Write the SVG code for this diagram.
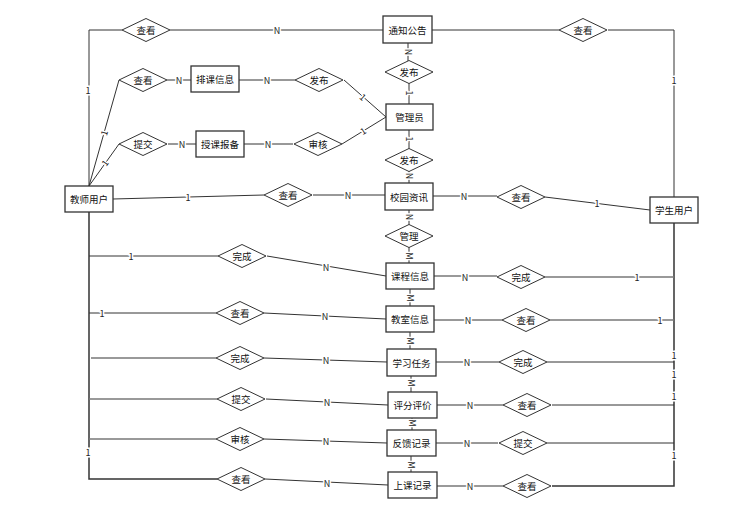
<svg xmlns="http://www.w3.org/2000/svg" width="751" height="520" viewBox="0 0 751 520">
<style>
text{font-family:"Noto Sans CJK SC","Liberation Sans",sans-serif;font-size:9.5px;fill:#111;text-anchor:middle;dominant-baseline:central}
.e rect{fill:#fff;stroke:#333;stroke-width:1.3}
.r polygon{fill:#fff;stroke:#333;stroke-width:1}
.c path{fill:none;stroke:#333;stroke-width:1}
.c .g{stroke:#777;stroke-width:1.3}
.l text{font-size:9px;fill:#222;stroke:#fff;stroke-width:3px;paint-order:stroke}
</style>
<defs>
<polygon id="dm" points="-24,0 0,-11.5 24,0 0,11.5"/>
</defs>
<g id="connectors" class="c">
<path d="M89,186 V30 H122"/>
<path d="M170,30 H383"/>
<path d="M432,30 H559"/>
<path d="M608,30 H674 V197"/>
<path d="M89,186 L119,80"/>
<path d="M89,186 L119,144"/>
<path d="M167,80 H191"/>
<path d="M239,80 H295"/>
<path d="M168,144 H196"/>
<path d="M244,144 H293"/>
<path d="M344,80 L386,117"/>
<path d="M342,144 L386,117"/>
<path d="M408,43 V61"/>
<path d="M409,83 V104"/>
<path d="M409,130 V149"/>
<path d="M409,171 V183"/>
<path d="M409,210 V225"/>
<path d="M409,247 V263"/>
<path d="M410,289 V306"/>
<path d="M410,332 V349"/>
<path d="M411,376 V392"/>
<path d="M412,418 V430"/>
<path d="M411,456 V472"/>
<path d="M113,199 L264,195"/>
<path d="M313,195 H385"/>
<path d="M433,196 H497"/>
<path d="M545,197 L650,210"/>
<path d="M89,212 V479 H217" style="stroke-width:1.5"/>
<path d="M89,256 H218"/>
<path d="M89,313 H216"/>
<path class="g" d="M91,358 H216"/>
<path class="g" d="M89,399 H217"/>
<path class="g" d="M89,439 H216"/>
<path d="M267,256 L386,276"/>
<path d="M264,313 L386,319"/>
<path d="M264,358 L387,362"/>
<path d="M266,399 L388,405"/>
<path d="M264,439 L387,443"/>
<path d="M265,479 L388,485"/>
<path class="g" d="M434,276 H497"/>
<path d="M434,320 H502"/>
<path d="M436,362 H499"/>
<path class="g" d="M437,405 H503"/>
<path d="M436,443 H498"/>
<path class="g" d="M437,486 H503"/>
<path d="M674,223 V486 H552" style="stroke-width:1.5"/>
<path class="g" d="M545,277 H674"/>
<path class="g" d="M550,320 H674"/>
<path d="M547,362 H674"/>
<path d="M552,405 H674"/>
<path d="M547,443 H674"/>
</g>
<g id="labels" class="l">
<text x="88" y="90">1</text>
<text x="277" y="30">N</text>
<text x="674" y="80">1</text>
<text x="179" y="80">N</text>
<text x="267" y="80">N</text>
<text x="182" y="144">N</text>
<text x="268" y="144">N</text>
<text x="104" y="133" transform="rotate(-74 104 133)">1</text>
<text x="105" y="163" transform="rotate(-54 105 163)">1</text>
<text x="363" y="97" transform="rotate(41 363 97)">1</text>
<text x="363" y="131" transform="rotate(-32 363 131)">1</text>
<text x="408" y="52" transform="rotate(90 408 52)">N</text>
<text x="409" y="93" transform="rotate(90 409 93)">1</text>
<text x="409" y="139" transform="rotate(90 409 139)">1</text>
<text x="409" y="176" transform="rotate(90 409 176)">N</text>
<text x="409" y="217" transform="rotate(90 409 217)">N</text>
<text x="409" y="256" transform="rotate(90 409 256)">M</text>
<text x="410" y="298" transform="rotate(90 410 298)">M</text>
<text x="410" y="341" transform="rotate(90 410 341)">M</text>
<text x="411" y="383" transform="rotate(90 411 383)">M</text>
<text x="412" y="423" transform="rotate(90 412 423)">M</text>
<text x="411" y="465" transform="rotate(90 411 465)">M</text>
<text x="188" y="197">1</text>
<text x="348" y="195">N</text>
<text x="464" y="196">N</text>
<text x="597" y="203">1</text>
<text x="131" y="256">1</text>
<text x="326" y="267">N</text>
<text x="102" y="313">1</text>
<text x="325" y="316">N</text>
<text x="326" y="360">N</text>
<text x="327" y="402">N</text>
<text x="326" y="441">N</text>
<text x="327" y="483">N</text>
<text x="88" y="452">1</text>
<text x="465" y="277">N</text>
<text x="468" y="320">N</text>
<text x="467" y="362">N</text>
<text x="470" y="405">N</text>
<text x="467" y="443">N</text>
<text x="470" y="486">N</text>
<text x="637" y="277">1</text>
<text x="660" y="320">1</text>
<text x="674" y="355">1</text>
<text x="674" y="374">1</text>
<text x="674" y="396">1</text>
<text x="674" y="455">1</text>
</g>
<g id="teacher" class="e"><rect x="65" y="186" width="48" height="26"/><text x="89" y="199">教师用户</text></g>
<g id="student" class="e"><rect x="650" y="197" width="48" height="26"/><text x="674" y="210">学生用户</text></g>
<g id="notice" class="e"><rect x="383" y="16" width="49" height="27"/><text x="407.5" y="30">通知公告</text></g>
<g id="admin" class="e"><rect x="386" y="104" width="47" height="26"/><text x="409.5" y="117">管理员</text></g>
<g id="schedule" class="e"><rect x="191" y="66" width="48" height="26"/><text x="215" y="79">排课信息</text></g>
<g id="report" class="e"><rect x="196" y="131" width="48" height="26"/><text x="220" y="144">授课报备</text></g>
<g id="news" class="e"><rect x="385" y="183" width="48" height="27"/><text x="409" y="196.5">校园资讯</text></g>
<g id="course" class="e"><rect x="386" y="263" width="48" height="26"/><text x="410" y="276">课程信息</text></g>
<g id="classroom" class="e"><rect x="386" y="306" width="48" height="26"/><text x="410" y="319">教室信息</text></g>
<g id="task" class="e"><rect x="387" y="349" width="49" height="27"/><text x="411.5" y="362.5">学习任务</text></g>
<g id="evaluation" class="e"><rect x="388" y="392" width="49" height="26"/><text x="412.5" y="405">评分评价</text></g>
<g id="feedback" class="e"><rect x="387" y="430" width="49" height="26"/><text x="411.5" y="443">反馈记录</text></g>
<g id="attendance" class="e"><rect x="388" y="472" width="49" height="26"/><text x="412.5" y="485">上课记录</text></g>
<g id="r_view_notice_t" class="r"><use href="#dm" x="146" y="30" style="fill:#fff;stroke:#333"/><text x="146" y="30">查看</text></g>
<g id="r_view_notice_s" class="r"><use href="#dm" x="583" y="30" style="fill:#fff;stroke:#333"/><text x="583" y="30">查看</text></g>
<g id="r_view_schedule" class="r"><use href="#dm" x="143" y="80" style="fill:#fff;stroke:#333"/><text x="143" y="80">查看</text></g>
<g id="r_submit_report" class="r"><use href="#dm" x="143" y="144" style="fill:#fff;stroke:#333"/><text x="143" y="144">提交</text></g>
<g id="r_pub_schedule" class="r"><use href="#dm" x="319" y="80" style="fill:#fff;stroke:#333"/><text x="319" y="80">发布</text></g>
<g id="r_audit_report" class="r"><use href="#dm" x="318" y="144" style="fill:#fff;stroke:#333"/><text x="318" y="144">审核</text></g>
<g id="r_pub_notice" class="r"><use href="#dm" x="409" y="72" style="fill:#fff;stroke:#333"/><text x="409" y="72">发布</text></g>
<g id="r_pub_news" class="r"><use href="#dm" x="409" y="160" style="fill:#fff;stroke:#333"/><text x="409" y="160">发布</text></g>
<g id="r_manage" class="r"><use href="#dm" x="409" y="236" style="fill:#fff;stroke:#333"/><text x="409" y="236">管理</text></g>
<g id="r_view_news_t" class="r"><use href="#dm" x="288" y="195" style="fill:#fff;stroke:#333"/><text x="288" y="195">查看</text></g>
<g id="r_view_news_s" class="r"><use href="#dm" x="521" y="197" style="fill:#fff;stroke:#333"/><text x="521" y="197">查看</text></g>
<g id="r_t_course" class="r"><use href="#dm" x="242" y="256" style="fill:#fff;stroke:#333"/><text x="242" y="256">完成</text></g>
<g id="r_t_room" class="r"><use href="#dm" x="240" y="313" style="fill:#fff;stroke:#333"/><text x="240" y="313">查看</text></g>
<g id="r_t_task" class="r"><use href="#dm" x="240" y="358" style="fill:#fff;stroke:#333"/><text x="240" y="358">完成</text></g>
<g id="r_t_eval" class="r"><use href="#dm" x="241" y="399" style="fill:#fff;stroke:#333"/><text x="241" y="399">提交</text></g>
<g id="r_t_feedback" class="r"><use href="#dm" x="240" y="439" style="fill:#fff;stroke:#333"/><text x="240" y="439">审核</text></g>
<g id="r_t_attend" class="r"><use href="#dm" x="241" y="479" style="fill:#fff;stroke:#333"/><text x="241" y="479">查看</text></g>
<g id="r_s_course" class="r"><use href="#dm" x="521" y="277" style="fill:#fff;stroke:#333"/><text x="521" y="277">完成</text></g>
<g id="r_s_room" class="r"><use href="#dm" x="526" y="320" style="fill:#fff;stroke:#333"/><text x="526" y="320">查看</text></g>
<g id="r_s_task" class="r"><use href="#dm" x="523" y="362" style="fill:#fff;stroke:#333"/><text x="523" y="362">完成</text></g>
<g id="r_s_eval" class="r"><use href="#dm" x="527" y="405" style="fill:#fff;stroke:#333"/><text x="527" y="405">查看</text></g>
<g id="r_s_feedback" class="r"><use href="#dm" x="523" y="443" style="fill:#fff;stroke:#333"/><text x="523" y="443">提交</text></g>
<g id="r_s_attend" class="r"><use href="#dm" x="527" y="486" style="fill:#fff;stroke:#333"/><text x="527" y="486">查看</text></g>
</svg>
